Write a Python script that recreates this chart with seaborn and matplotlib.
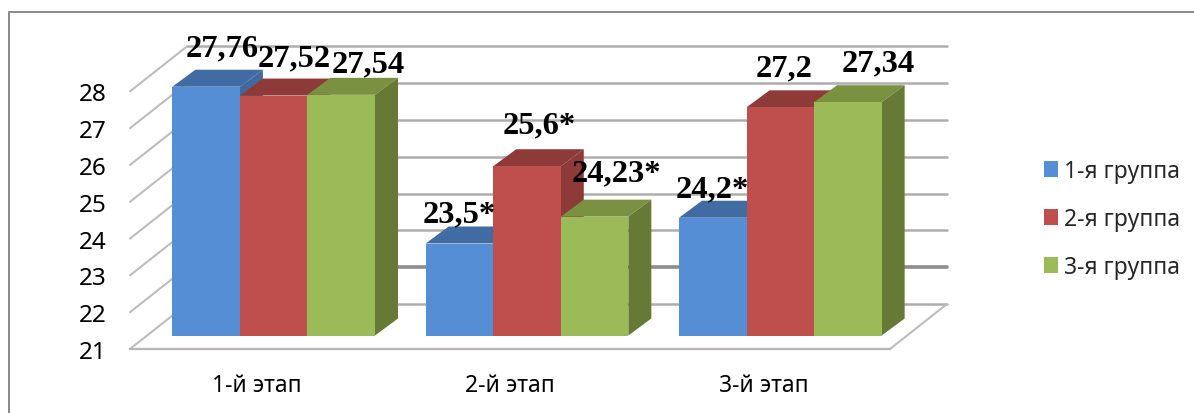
import matplotlib
matplotlib.use("Agg")
import matplotlib.pyplot as plt
import seaborn as sns
import pandas as pd
from matplotlib.lines import Line2D
from matplotlib.patches import Polygon

stages = ["1-й этап", "2-й этап", "3-й этап"]
groups = ["1-я группа", "2-я группа", "3-я группа"]
group1 = [27.76, 23.5, 24.2]
group2 = [27.52, 25.6, 27.2]
group3 = [27.54, 24.23, 27.34]
labels1 = ["27,76", "23,5*", "24,2*"]
labels2 = ["27,52", "25,6*", "27,2"]
labels3 = ["27,54", "24,23*", "27,34"]
y_ticks = [21, 22, 23, 24, 25, 26, 27, 28]

W, H = 1194, 414
sns.set_theme(style="white")
plt.rcParams["font.family"] = ["Noto Sans", "DejaVu Sans"]
fig = plt.figure(figsize=(W / 100, H / 100), dpi=100, facecolor="white")


def plane(x0, x1, y_bottom, y_top, z):
    return fig.add_axes([x0 / W, 1 - y_bottom / H, (x1 - x0) / W, (y_bottom - y_top) / H],
                        facecolor="none", zorder=z)


PX_Y = 36.8
GRID = "#adadad"
back = plane(187, 947, 305, 305 - 7 * PX_Y, 1)
bars = plane(147, 907, 336.5, 336.5 - 7 * PX_Y, 2)
front = plane(130, 890, 350, 350 - 7 * PX_Y, 3)

frame = pd.DataFrame({
    "stage": stages * 3,
    "group": [g for g in groups for _ in stages],
    "value": group1 + group2 + group3,
})
colors = ["#558ED5", "#BE4F4C", "#9BBB59"]
tops = ["#406CA3", "#8E3A38", "#7A9142"]
sides = ["#3F6A9F", "#8E3A38", "#667A36"]
sns.barplot(data=frame, x="stage", y="value", hue="group", hue_order=groups, order=stages,
            palette=colors, width=0.8, gap=0, saturation=1, ax=bars, errorbar=None, zorder=5,
            linewidth=0)
for a in (back, bars, front):
    a.set_xlim(-0.5, 2.5)
    a.set_ylim(21, 28)
    a.set_xlabel("")
    a.set_ylabel("")
handles, leg_labels = bars.get_legend_handles_labels()
bars.get_legend().remove()
bars.axis("off")

# depth of each bar
UX = 3 / 760
dx, dy = 23 * UX, 17 / PX_Y
floor = bars.get_ylim()[0]
label_text = labels1 + labels2 + labels3
shift = [(16, 39), (0, 30), (-1, 29), (21, 38), (12, 41), (4, 39), (27, 31), (22, 44), (30, 39)]
rects = [p for p in bars.patches if p.get_height() > 0][:9]
for k, rect in enumerate(rects):
    s = k // 3
    x0, x1 = rect.get_x(), rect.get_x() + rect.get_width()
    y1 = rect.get_y() + rect.get_height()
    bars.add_patch(Polygon([(x0, y1), (x0 + dx, y1 + dy), (x1 + dx, y1 + dy), (x1, y1)],
                           closed=True, fc=tops[s], ec="none", zorder=1 + s, clip_on=False))
    bars.add_patch(Polygon([(x1, floor), (x1 + dx, floor + dy), (x1 + dx, y1 + dy), (x1, y1)],
                           closed=True, fc=sides[s], ec="none", zorder=1 + s, clip_on=False))
    bars.annotate(label_text[k], ((x0 + x1) / 2, y1), xytext=shift[k], textcoords="offset pixels",
                  ha="center", va="center", family="Liberation Serif", weight="bold",
                  fontsize=23.4, color="black", zorder=10, annotation_clip=False)

# back wall
back.set_yticks(y_ticks)
back.set_xticks([])
back.tick_params(left=False, labelleft=False)
sns.despine(ax=back, left=True, bottom=True)
back.grid(True, axis="y", color=GRID, lw=1.8)
back.yaxis.get_gridlines()[1].set_color("#8c8c8c")
back.yaxis.get_gridlines()[1].set_linewidth(2.6)
back.set_axisbelow(True)
for gl in back.yaxis.get_gridlines():
    gl.set_clip_on(False)
wx, wy = 57 * UX, 45 / PX_Y
for v in y_ticks:
    back.plot([-0.5 - wx, -0.5], [v - wy, v], color="#bdbdbd", lw=1.5, clip_on=False)
back.plot([2.5 - wx, 2.5], [21 - wy, 21], color="#bdbdbd", lw=1.5, clip_on=False)

# front edge with the axis labels
front.set_xticks(range(3), stages)
front.set_yticks(y_ticks)
front.tick_params(axis="both", length=0, labelsize=16.5, labelcolor="black")
front.tick_params(axis="y", pad=16.5, labelsize=17.5)
front.tick_params(axis="x", pad=17)
front.grid(False)
sns.despine(ax=front, left=True, top=True, right=True)
front.spines["bottom"].set_color("#b5b5b5")
front.spines["bottom"].set_linewidth(1.6)

# legend
fig.legend(handles, leg_labels, loc="center left", bbox_to_anchor=(1043.5 / W, 1 - 220 / H),
           frameon=False, fontsize=16.5, handlelength=0.65, handleheight=0.65,
           handletextpad=0.25, labelspacing=1.05, borderpad=0, borderaxespad=0)

# outer frame
fig.add_artist(Line2D([9 / W, 1], [1 - 13 / H, 1 - 13 / H], color="#8a8a8a", lw=1.4))
fig.add_artist(Line2D([9 / W, 9 / W], [0, 1 - 13 / H], color="#8a8a8a", lw=1.4))

fig.savefig("out.png", dpi=100)
